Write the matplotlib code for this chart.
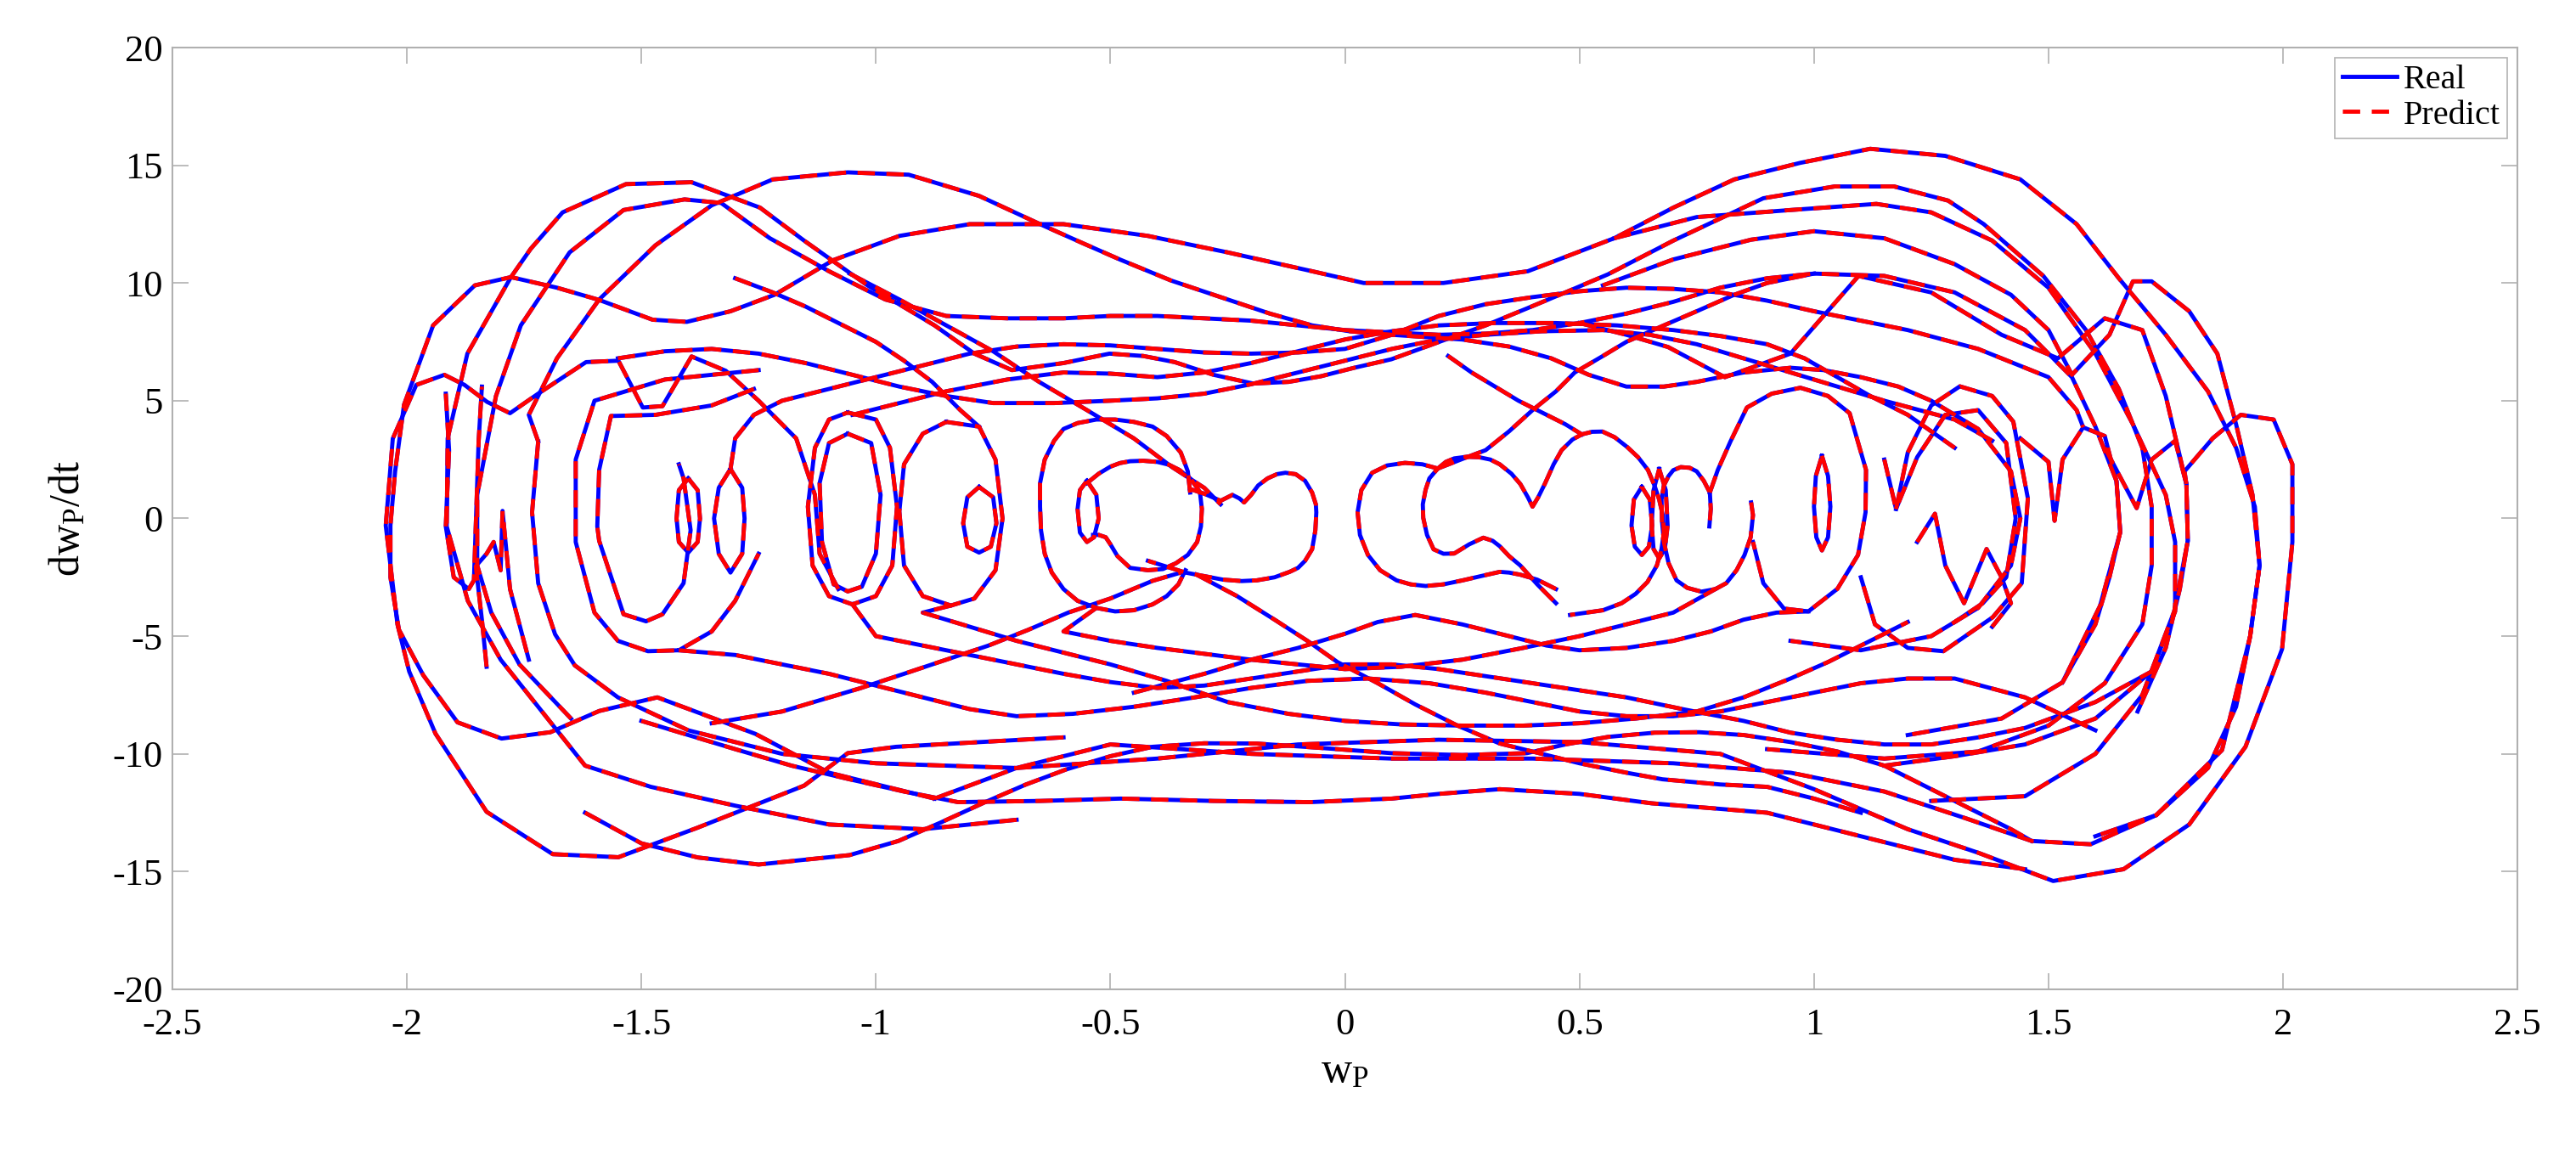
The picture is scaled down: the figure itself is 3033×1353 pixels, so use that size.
import numpy as np
import matplotlib.pyplot as plt

plt.rcParams['font.family'] = ['Liberation Serif', 'DejaVu Serif']
plt.rcParams['mathtext.fontset'] = 'custom'
plt.rcParams['mathtext.rm'] = 'Liberation Serif'
plt.rcParams['mathtext.it'] = 'Liberation Serif'
plt.rcParams['axes.unicode_minus'] = False

# trajectory pieces (w_P, dw_P/dt)
orbit_outer_top = [(-0.875, -11.9), (-1.1, -10.8), (-1.257, -9.15), (-1.466, -7.6), (-1.59, -8.18),
                   (-1.694, -9.08), (-1.798, -9.35), (-1.892, -8.66), (-1.965, -6.66), (-2.017, -4.72),
                   (-2.035, -2.5), (-2.035, -0.3), (-2.025, 2.0), (-2.006, 4.83), (-1.944, 8.2),
                   (-1.855, 9.9), (-1.778, 10.25), (-1.68, 9.8), (-1.59, 9.28), (-1.476, 8.44),
                   (-1.403, 8.35), (-1.31, 8.8), (-1.216, 9.5), (-1.091, 10.97), (-0.95, 12.0),
                   (-0.8, 12.5), (-0.6, 12.5), (-0.42, 12.0), (-0.25, 11.3), (-0.07, 10.5), (0.04, 10.0),
                   (0.21, 10.0), (0.39, 10.5), (0.574, 11.9), (0.7, 13.2), (0.83, 14.4), (0.97, 15.1),
                   (1.12, 15.7), (1.28, 15.4), (1.44, 14.4), (1.56, 12.5), (1.65, 10.2), (1.75, 7.8),
                   (1.84, 5.4), (1.9, 3.0), (1.94, 0.5), (1.95, -2.0), (1.93, -5.0), (1.9, -8.0),
                   (1.84, -10.6), (1.73, -12.6), (1.59, -13.84), (1.464, -13.7), (1.324, -12.74),
                   (1.15, -11.6), (0.95, -10.8), (0.7, -10.4), (0.4, -10.2), (0.1, -10.2), (-0.2, -10.0),
                   (-0.5, -9.6), (-0.7, -10.6), (-0.875, -11.9)]

orbit_outer_left = [(-0.6, -9.3), (-0.957, -9.7), (-1.06, -9.97), (-1.153, -11.35), (-1.382, -13.15),
                    (-1.549, -14.39), (-1.689, -14.26), (-1.83, -12.46), (-1.939, -9.14), (-1.995, -6.5),
                    (-2.02, -4.5), (-2.045, -0.3), (-2.03, 3.39), (-1.98, 5.67), (-1.92, 6.1),
                    (-1.877, 5.67), (-1.829, 4.95), (-1.78, 4.47), (-1.72, 5.3), (-1.618, 6.64),
                    (-1.549, 6.7), (-1.497, 4.71), (-1.455, 4.77), (-1.393, 6.88), (-1.32, 6.27),
                    (-1.25, 5.0), (-1.17, 3.4), (-1.13, 1.0), (-1.12, -1.5), (-1.08, -3.0)]

orbit_a = [(-0.7, -12.8), (-0.9, -13.2), (-1.1, -13.0), (-1.3, -12.2), (-1.48, -11.4),
           (-1.62, -10.5), (-1.72, -8.0), (-1.8, -6.0), (-1.87, -3.5), (-1.915, -0.34), (-1.913, 3.4),
           (-1.871, 7.0), (-1.778, 10.25), (-1.736, 11.45), (-1.668, 13.0), (-1.533, 14.2),
           (-1.393, 14.28), (-1.247, 13.2), (-1.153, 11.8), (-1.018, 9.9), (-0.875, 8.2), (-0.79, 7.0),
           (-0.71, 6.3), (-0.6, 6.6), (-0.502, 7.0), (-0.43, 6.9), (-0.363, 6.64), (-0.28, 6.1),
           (-0.196, 5.73), (-0.12, 5.8), (-0.051, 6.04), (0.02, 6.4), (0.099, 6.76), (0.215, 7.6),
           (0.3, 8.2), (0.388, 8.92), (0.47, 9.6), (0.561, 10.37), (0.7, 11.8), (0.892, 13.6),
           (1.044, 14.1), (1.171, 14.1), (1.286, 13.5), (1.362, 12.5), (1.489, 10.3), (1.58, 8.0),
           (1.65, 5.5), (1.7, 3.0), (1.72, 0.5), (1.72, -2.0), (1.7, -4.5), (1.62, -7.0), (1.5, -8.8),
           (1.35, -9.9), (1.15, -10.2), (0.9, -9.8)]

orbit_b = [(-1.65, -8.5), (-1.76, -6.2), (-1.82, -4.0), (-1.85, -2.0), (-1.85, 1.0), (-1.81, 5.2),
           (-1.757, 8.2), (-1.653, 11.3), (-1.538, 13.1),
           (-1.408, 13.55), (-1.33, 13.4), (-1.226, 11.9), (-1.1, 10.5), (-0.98, 9.3), (-0.85, 8.6),
           (-0.72, 8.5), (-0.6, 8.5), (-0.5, 8.6), (-0.4, 8.6), (-0.3, 8.5), (-0.2, 8.4), (-0.1, 8.2),
           (0.0, 8.0), (0.1, 7.9), (0.2, 7.8), (0.3, 7.85), (0.4, 8.0), (0.5, 8.3), (0.6, 8.7),
           (0.7, 9.2), (0.8, 9.8), (0.9, 10.2), (1.0, 10.4), (1.15, 10.3), (1.3, 9.6), (1.45, 8.0),
           (1.55, 6.0), (1.6, 3.9), (1.645, 1.58), (1.653, -0.58), (1.61, -3.71), (1.53, -6.96),
           (1.4, -8.5), (1.2, -9.2)]

orbit_c = [(-1.72, 3.27), (-1.74, 4.4), (-1.68, 6.8), (-1.59, 9.3), (-1.47, 11.6), (-1.35, 13.3),
           (-1.22, 14.4), (-1.06, 14.7), (-0.93, 14.6), (-0.78, 13.7), (-0.65, 12.5), (-0.56, 11.7),
           (-0.48, 11.0), (-0.37, 10.1), (-0.25, 9.3), (-0.16, 8.7), (-0.07, 8.2), (0.01, 7.95),
           (0.1, 7.8), (0.25, 7.6), (0.35, 7.3), (0.44, 6.8), (0.52, 6.1), (0.6, 5.6), (0.68, 5.6),
           (0.75, 5.8), (0.85, 6.2), (0.95, 6.4), (1.02, 6.3), (1.1, 6.0), (1.18, 5.6), (1.25, 5.0),
           (1.35, 3.8), (1.42, 2.0), (1.44, 0.0), (1.42, -2.0), (1.35, -3.8), (1.25, -5.0),
           (1.1, -5.6), (0.95, -5.2)]

orbit_c_low = [(-1.72, 3.27), (-1.733, 0.26), (-1.72, -2.75), (-1.684, -4.92), (-1.642, -6.24),
               (-1.55, -7.6), (-1.4, -9.0), (-1.2, -10.0), (-1.0, -10.4), (-0.7, -10.6), (-0.4, -10.2),
               (-0.1, -9.6), (0.2, -9.4), (0.5, -9.5), (0.8, -10.0), (1.0, -11.5), (1.2, -13.2),
               (1.35, -14.2), (1.51, -15.4), (1.66, -14.9), (1.8, -13.0), (1.92, -9.7), (1.998, -5.55),
               (2.02, -1.0), (2.02, 2.3), (1.98, 4.2), (1.91, 4.4), (1.85, 3.4), (1.79, 2.0),
               (1.794, 1.46)]

bottom_arc_1 = [(-1.62, -12.5), (-1.5, -13.8), (-1.38, -14.4), (-1.25, -14.7), (-1.056, -14.3),
                (-0.952, -13.7), (-0.86, -12.9), (-0.767, -12.05), (-0.68, -11.3), (-0.594, -10.66),
                (-0.5, -10.1), (-0.41, -9.7), (-0.3, -9.55), (-0.19, -9.56), (-0.05, -9.75),
                (0.099, -9.97), (0.25, -10.05), (0.388, -9.97), (0.47, -9.6), (0.561, -9.28),
                (0.66, -9.1), (0.755, -9.08), (0.85, -9.2), (0.95, -9.5), (1.05, -9.9), (1.15, -10.5),
                (1.3, -12.0), (1.42, -13.2), (1.464, -13.7)]

bottom_arc_2 = [(-1.5, -8.6), (-1.3, -9.8), (-1.18, -10.5), (-1.056, -11.08), (-0.94, -11.6),
                (-0.825, -12.05), (-0.65, -12.0), (-0.478, -11.9), (-0.28, -12.0), (-0.074, -12.05),
                (0.1, -11.9), (0.2, -11.7), (0.33, -11.5), (0.5, -11.7), (0.654, -12.1), (0.9, -12.5),
                (1.1, -13.5), (1.3, -14.5), (1.45, -14.9)]

bottom_arc_3 = [(-1.42, -5.6), (-1.3, -5.8), (-1.1, -6.6), (-0.9, -7.6), (-0.8, -8.1), (-0.7, -8.4),
                (-0.58, -8.3), (-0.45, -8.0), (-0.32, -7.6), (-0.2, -7.2), (-0.08, -6.9), (0.05, -6.8),
                (0.18, -7.0), (0.3, -7.4), (0.4, -7.8), (0.5, -8.2), (0.6, -8.4), (0.7, -8.4),
                (0.8, -8.2), (0.9, -7.8), (1.0, -7.4), (1.1, -7.0), (1.2, -6.8), (1.3, -6.8),
                (1.45, -7.6), (1.6, -9.0)]

bottom_arc_4 = [(-1.05, -3.65), (-1.0, -5.0), (-0.9, -5.4), (-0.8, -5.8), (-0.7, -6.2), (-0.6, -6.6),
                (-0.5, -6.95), (-0.4, -7.2), (-0.3, -7.1), (-0.2, -6.8), (-0.1, -6.5), (0.0, -6.2),
                (0.1, -6.2), (0.2, -6.4), (0.3, -6.7), (0.4, -7.0), (0.5, -7.3), (0.6, -7.6),
                (0.72, -8.1), (0.85, -8.6), (0.95, -9.1), (1.05, -9.4), (1.15, -9.6), (1.25, -9.6),
                (1.35, -9.3), (1.45, -8.9), (1.6, -7.8), (1.72, -6.5)]

bottom_arc_5 = [(-0.84, -3.7), (-0.9, -4.0), (-0.8, -4.6), (-0.7, -5.2), (-0.6, -5.7), (-0.5, -6.2),
                (-0.38, -6.9), (-0.25, -7.8), (-0.12, -8.3), (0.0, -8.6), (0.12, -8.75), (0.25, -8.8),
                (0.38, -8.8), (0.5, -8.7), (0.62, -8.5), (0.75, -8.2), (0.85, -7.6), (0.95, -6.8),
                (1.03, -6.1), (1.1, -5.4), (1.2, -4.4)]

bottom_diag_1 = [(-1.35, -8.7), (-1.2, -8.2), (-1.033, -7.21), (-0.94, -6.6), (-0.85, -6.0),
                 (-0.76, -5.4), (-0.675, -4.73), (-0.59, -4.0), (-0.5, -3.4), (-0.41, -2.65),
                 (-0.35, -2.3)]
bottom_diag_2 = [(-0.317, -2.38), (-0.23, -3.3), (-0.15, -4.3), (-0.08, -5.2), (-0.016, -6.1),
                 (0.07, -7.0), (0.15, -7.9), (0.24, -8.8), (0.33, -9.56), (0.42, -10.0), (0.5, -10.4),
                 (0.6, -10.8), (0.677, -11.08), (0.8, -11.3), (0.9, -11.4), (1.0, -11.9), (1.1, -12.5)]
bottom_wave_1 = [(-0.45, -7.4), (-0.3, -6.6), (-0.2, -6.0), (-0.1, -5.5), (0.0, -4.9), (0.07, -4.4),
                 (0.15, -4.1), (0.25, -4.5), (0.35, -5.0), (0.43, -5.4), (0.5, -5.6), (0.6, -5.5),
                 (0.7, -5.2), (0.78, -4.8), (0.85, -4.3), (0.92, -4.0), (0.988, -3.95)]
bottom_wave_2 = [(-0.53, -3.8), (-0.6, -4.8), (-0.5, -5.2), (-0.4, -5.5), (-0.3, -5.75), (-0.2, -6.0),
                 (-0.1, -6.2), (0.0, -6.4), (0.12, -6.3), (0.25, -6.0), (0.38, -5.5), (0.5, -5.0),
                 (0.6, -4.5), (0.7, -4.0), (0.79, -3.0)]

top_arc_1 = [(-1.31, 2.1), (-1.3, 3.4), (-1.26, 4.4), (-1.2, 5.0), (-1.1, 5.5), (-1.0, 6.0),
             (-0.9, 6.5), (-0.8, 7.0), (-0.7, 7.3), (-0.6, 7.4),
             (-0.5, 7.35), (-0.4, 7.2), (-0.3, 7.05), (-0.2, 7.0), (-0.1, 7.05), (0.0, 7.2),
             (0.1, 7.8), (0.2, 8.6), (0.3, 9.1), (0.4, 9.4), (0.5, 9.65), (0.6, 9.8), (0.7, 9.75),
             (0.8, 9.6), (0.9, 9.25), (1.0, 8.8), (1.1, 8.4), (1.2, 8.0), (1.35, 7.2), (1.5, 6.0),
             (1.56, 4.6), (1.574, 3.87)]

top_arc_2 = [(-1.55, 6.8), (-1.45, 7.1), (-1.35, 7.2), (-1.25, 7.0), (-1.15, 6.6), (-1.05, 6.1),
             (-0.95, 5.6), (-0.85, 5.2), (-0.75, 4.9), (-0.62, 4.9), (-0.5, 5.0), (-0.4, 5.1),
             (-0.3, 5.3), (-0.2, 5.7), (-0.1, 6.2), (0.0, 6.7), (0.1, 7.2), (0.2, 7.6), (0.3, 7.8),
             (0.42, 7.95), (0.55, 8.0), (0.65, 7.8), (0.75, 7.4), (0.85, 6.8), (0.95, 6.2),
             (1.05, 5.6), (1.15, 5.0), (1.3, 4.2), (1.38, 3.3)]

top_arc_3 = [(-1.05, 4.4), (-0.95, 4.9), (-0.85, 5.4), (-0.72, 5.9), (-0.6, 6.2), (-0.5, 6.15),
             (-0.4, 6.0), (-0.3, 6.2), (-0.2, 6.6), (-0.1, 7.1), (0.0, 7.6), (0.1, 7.95), (0.2, 8.2),
             (0.32, 8.3), (0.45, 8.3), (0.58, 8.2), (0.7, 8.0), (0.8, 7.75), (0.9, 7.4), (0.98, 6.8),
             (1.05, 6.0), (1.12, 5.2), (1.2, 4.4), (1.3, 3.0)]

top_diag_1 = [(-1.056, 10.4), (-0.95, 9.3), (-0.85, 8.2), (-0.75, 7.1), (-0.652, 5.8), (-0.55, 4.6),
              (-0.45, 3.4), (-0.37, 2.2), (-0.3, 1.3), (-0.265, 0.6)]
top_diag_2 = [(-1.3, 10.2), (-1.22, 9.6), (-1.15, 9.0), (-1.07, 8.2), (-1.0, 7.5), (-0.94, 6.7),
              (-0.88, 5.8), (-0.82, 4.6), (-0.78, 3.9)]
top_diag_3 = [(0.22, 6.9), (0.27, 6.2), (0.32, 5.6), (0.37, 5.0), (0.42, 4.5), (0.47, 4.0), (0.505, 3.57)]
top_diag_4 = [(0.198, 2.12), (0.26, 2.6), (0.3, 2.9), (0.35, 3.7), (0.4, 4.6), (0.45, 5.4), (0.49, 6.2),
              (0.55, 6.9), (0.6, 7.5), (0.68, 8.2), (0.75, 8.8), (0.83, 9.5), (0.9, 10.0), (1.0, 10.4)]

right_top_arc = [(0.574, 11.9), (0.75, 12.8), (0.95, 13.1), (1.133, 13.36), (1.25, 13.0), (1.38, 11.8),
                 (1.5, 9.8), (1.6, 7.0), (1.68, 4.0), (1.75, 1.0), (1.77, -1.0), (1.77, -3.95),
                 (1.72, -6.5), (1.6, -8.5), (1.45, -9.6), (1.3, -10.1), (1.15, -10.5)]

right_mid_arc = [(0.55, 9.9), (0.7, 11.0), (0.866, 11.84), (1.0, 12.2), (1.15, 11.9), (1.3, 10.8),
                 (1.42, 9.5), (1.5, 8.0),
                 (1.55, 6.1), (1.63, 7.8), (1.68, 10.07), (1.72, 10.07), (1.8, 8.8), (1.86, 7.0),
                 (1.9, 4.0), (1.935, 1.0), (1.95, -2.0), (1.93, -5.0), (1.87, -9.84), (1.73, -12.6),
                 (1.6, -13.5)]

right_low_arc = [(0.5, 8.3), (0.6, 7.8), (0.689, 7.28), (0.81, 6.0), (0.95, 7.0), (1.095, 10.3),
                 (1.25, 9.6), (1.4, 7.8),
                 (1.52, 6.8), (1.62, 8.5), (1.7, 8.0), (1.75, 5.2), (1.794, 1.46), (1.797, -0.95),
                 (1.768, -3.95), (1.7, -7.5), (1.6, -10.0), (1.45, -11.8), (1.25, -12.0)]

# left well loops
left_oval_1 = [(-1.40, 1.7), (-1.38, 1.2), (-1.375, 0.0), (-1.38, -1.0), (-1.40, -1.45), (-1.42, -1.0),
               (-1.425, 0.0), (-1.42, 1.2), (-1.40, 1.7)]
left_oval_2 = [(-1.31, 2.1), (-1.285, 1.3), (-1.28, 0.0), (-1.285, -1.5), (-1.31, -2.3), (-1.335, -1.5),
               (-1.345, 0.0), (-1.335, 1.3), (-1.31, 2.1)]
left_loop_1 = [(-1.26, 5.5), (-1.35, 4.8), (-1.47, 4.4), (-1.565, 4.35), (-1.59, 2.06), (-1.594, -0.34),
               (-1.59, -0.95), (-1.538, -4.07), (-1.49, -4.37), (-1.455, -4.07), (-1.41, -2.75),
               (-1.395, -0.5), (-1.41, 1.7), (-1.42, 2.3)]
left_loop_2 = [(-1.25, 6.3), (-1.45, 5.9), (-1.6, 5.0), (-1.64, 2.5), (-1.64, -1.0), (-1.6, -4.0),
               (-1.55, -5.2), (-1.486, -5.64), (-1.42, -5.6), (-1.35, -4.8), (-1.3, -3.5), (-1.25, -1.5)]
left_hook = [(-1.917, 5.3), (-1.91, 2.9), (-1.917, -0.34), (-1.90, -2.5), (-1.868, -3.0),
             (-1.857, -2.63), (-1.847, 3.27), (-1.84, 5.6)]
left_spike = [(-1.83, -6.3), (-1.84, -4.3), (-1.853, -2.03), (-1.83, -1.5), (-1.815, -1.0),
              (-1.80, -2.2), (-1.796, 0.32), (-1.78, -3.0), (-1.74, -6.0)]
left_big = [(-1.06, 4.5), (-1.0, 4.2), (-0.97, 3.0), (-0.955, 0.5), (-0.965, -2.0), (-1.0, -3.3),
            (-1.05, -3.65), (-1.1, -3.3), (-1.135, -2.0), (-1.145, 0.5), (-1.13, 3.0), (-1.1, 4.2),
            (-1.06, 4.5)]
left_big_in = [(-1.06, 3.6), (-1.01, 3.2), (-0.99, 1.0), (-1.0, -1.5), (-1.03, -2.9), (-1.06, -3.1),
               (-1.09, -2.8), (-1.115, -1.0), (-1.12, 1.5), (-1.1, 3.2), (-1.06, 3.6)]
left_oval_3 = [(-0.78, 1.34), (-0.75, 0.9), (-0.743, -0.2), (-0.755, -1.2), (-0.78, -1.45),
               (-0.805, -1.2), (-0.814, -0.2), (-0.805, 0.9), (-0.78, 1.34)]
left_loop_3 = [(-0.85, 4.1), (-0.78, 3.9), (-0.745, 2.5), (-0.73, 0.0), (-0.745, -2.2), (-0.79, -3.4),
               (-0.84, -3.7), (-0.9, -3.3), (-0.94, -2.0), (-0.95, 0.3), (-0.94, 2.3), (-0.9, 3.6),
               (-0.85, 4.1)]
left_loop_4 = [(-0.33, 1.1), (-0.335, 2.0), (-0.35, 2.8), (-0.38, 3.5), (-0.41, 3.9), (-0.45, 4.1),
               (-0.49, 4.2), (-0.53, 4.2), (-0.57, 4.05), (-0.6, 3.8), (-0.62, 3.3), (-0.64, 2.5),
               (-0.65, 1.5), (-0.65, 0.5), (-0.648, -0.5), (-0.64, -1.5), (-0.625, -2.3), (-0.6, -3.0),
               (-0.57, -3.5), (-0.53, -3.8), (-0.49, -3.95), (-0.45, -3.9), (-0.41, -3.65),
               (-0.38, -3.3), (-0.355, -2.8), (-0.34, -2.2)]
left_oval_4 = [(-0.55, 1.6), (-0.53, 1.0), (-0.525, 0.0), (-0.535, -0.8), (-0.55, -1.0),
               (-0.565, -0.6), (-0.57, 0.4), (-0.565, 1.2), (-0.55, 1.6)]
left_w = [(-0.55, 1.5), (-0.525, 1.9), (-0.5, 2.2), (-0.48, 2.35), (-0.458, 2.43), (-0.43, 2.45),
          (-0.4, 2.4), (-0.375, 2.28), (-0.353, 2.06), (-0.33, 1.7), (-0.315, 1.3), (-0.309, 1.1),
          (-0.305, 0.4), (-0.307, -0.34), (-0.315, -1.0), (-0.335, -1.55), (-0.36, -1.9),
          (-0.388, -2.15), (-0.42, -2.2), (-0.458, -2.1), (-0.485, -1.6), (-0.5, -1.1), (-0.51, -0.8),
          (-0.525, -0.7), (-0.537, -0.7)]
center_left = [(-0.33, 1.25), (-0.3, 1.05), (-0.265, 0.75), (-0.24, 1.0), (-0.225, 0.85),
               (-0.215, 0.68), (-0.2, 1.0), (-0.185, 1.4), (-0.165, 1.7), (-0.145, 1.88),
               (-0.127, 1.94), (-0.105, 1.88), (-0.085, 1.6), (-0.07, 1.1), (-0.062, 0.6),
               (-0.061, 0.26), (-0.063, -0.5), (-0.07, -1.31), (-0.085, -1.8), (-0.1, -2.1),
               (-0.118, -2.27), (-0.15, -2.5), (-0.188, -2.63), (-0.22, -2.66), (-0.26, -2.6),
               (-0.3, -2.45), (-0.34, -2.3), (-0.38, -2.05), (-0.42, -1.8)]

# right well loops
center_right = [(0.45, -3.0), (0.41, -2.6), (0.374, -2.39), (0.35, -2.3), (0.33, -2.27), (0.29, -2.45),
                (0.251, -2.63), (0.21, -2.8), (0.172, -2.87), (0.14, -2.8), (0.11, -2.63),
                (0.075, -2.2), (0.049, -1.55), (0.032, -0.7), (0.027, 0.26), (0.035, 1.2),
                (0.058, 1.94), (0.09, 2.25), (0.128, 2.36), (0.165, 2.3), (0.198, 2.12), (0.18, 1.7),
                (0.172, 1.22), (0.166, 0.6), (0.167, 0.02), (0.175, -0.7), (0.189, -1.31),
                (0.21, -1.5), (0.233, -1.49), (0.265, -1.1), (0.295, -0.82), (0.315, -0.95),
                (0.33, -1.18), (0.35, -1.6), (0.374, -2.0), (0.41, -2.8), (0.45, -3.6)]
center_right_2 = [(0.198, 2.12), (0.215, 2.4), (0.233, 2.55), (0.26, 2.62), (0.286, 2.6), (0.31, 2.5),
                  (0.33, 2.3), (0.355, 1.9), (0.374, 1.46), (0.39, 0.9), (0.40, 0.5), (0.412, 0.9),
                  (0.426, 1.46), (0.445, 2.3), (0.462, 2.9), (0.485, 3.35), (0.505, 3.57),
                  (0.527, 3.68), (0.549, 3.69), (0.575, 3.45), (0.602, 3.03), (0.625, 2.6),
                  (0.646, 2.06), (0.66, 1.4), (0.67, 0.8), (0.678, 0.1), (0.68, -0.6), (0.675, -1.3),
                  (0.665, -2.0), (0.645, -2.7), (0.62, -3.2), (0.59, -3.6), (0.55, -3.9), (0.48, -4.1)]
right_oval_1 = [(0.633, 1.34), (0.65, 0.8), (0.655, -0.3), (0.648, -1.2), (0.633, -1.55),
                (0.618, -1.2), (0.611, -0.3), (0.616, 0.8), (0.633, 1.34)]
right_oval_2 = [(0.67, 2.1), (0.684, 1.2), (0.688, -0.3), (0.682, -1.3), (0.67, -1.7), (0.658, -1.3),
                (0.654, -0.3), (0.658, 1.2), (0.67, 2.1)]
right_loop_1 = [(0.866, 0.68), (0.87, 0.14), (0.865, -0.8), (0.852, -1.55), (0.835, -2.2),
                (0.813, -2.75), (0.79, -3.0), (0.76, -3.11), (0.73, -2.95), (0.707, -2.63),
                (0.69, -1.9), (0.68, -1.0), (0.676, -0.1), (0.675, 0.8), (0.68, 1.4), (0.69, 1.8),
                (0.7, 2.05), (0.716, 2.18), (0.735, 2.15), (0.75, 2.0), (0.765, 1.6), (0.778, 1.1),
                (0.78, 0.4), (0.777, -0.34)]
right_loop_2 = [(0.778, 1.1), (0.795, 2.06), (0.822, 3.27), (0.857, 4.71), (0.91, 5.3), (0.971, 5.55),
                (1.03, 5.2), (1.076, 4.47), (1.111, 2.06), (1.11, 0.26), (1.094, -1.55), (1.05, -2.99),
                (0.988, -3.95), (0.936, -3.83), (0.892, -2.75), (0.87, -1.0)]
right_oval_3 = [(1.017, 2.66), (1.03, 1.8), (1.035, 0.5), (1.03, -0.8), (1.017, -1.36), (1.005, -0.8),
                (1.0, 0.5), (1.004, 1.8), (1.017, 2.66)]
right_loop_3 = [(1.175, 0.4), (1.2, 2.8), (1.25, 4.8), (1.311, 5.61), (1.38, 5.2), (1.425, 4.11),
                (1.456, 0.86), (1.443, -2.75), (1.381, -4.2), (1.276, -5.64), (1.2, -5.5), (1.13, -4.5),
                (1.1, -2.5)]
right_loop_4 = [(1.22, -1.0), (1.258, 0.2), (1.28, -2.0), (1.32, -3.6), (1.368, -1.3), (1.4, -2.5),
                (1.42, -3.6), (1.38, -4.6)]
right_loop_5 = [(1.15, 2.5), (1.175, 0.4), (1.22, 2.6), (1.28, 4.4), (1.35, 4.6), (1.41, 3.2),
                (1.43, 0.0), (1.41, -2.5), (1.36, -3.6), (1.3, -4.4)]
right_c_1 = [(1.44, 3.4), (1.5, 2.4), (1.513, -0.1), (1.53, 2.5), (1.574, 3.87), (1.62, 3.5),
             (1.645, 1.58), (1.653, -0.58), (1.63, -2.5), (1.6, -4.5), (1.53, -6.96)]
right_c_2 = [(1.62, 3.0), (1.688, 0.44), (1.72, 2.5), (1.77, 3.3), (1.794, 1.46), (1.797, -0.95),
             (1.78, -3.0), (1.75, -5.5), (1.69, -8.2)]

pieces = [orbit_outer_top, orbit_outer_left, orbit_a, orbit_b, orbit_c, orbit_c_low,
          bottom_arc_1, bottom_arc_2, bottom_arc_3, bottom_arc_4, bottom_arc_5,
          bottom_diag_1, bottom_diag_2, bottom_wave_1, bottom_wave_2,
          top_arc_1, top_arc_2, top_arc_3, top_diag_1, top_diag_2, top_diag_3, top_diag_4,
          right_top_arc, right_mid_arc, right_low_arc,
          left_oval_1, left_oval_2, left_loop_1, left_loop_2, left_hook, left_spike,
          left_big, left_big_in, left_oval_3, left_loop_3, left_loop_4, left_oval_4, left_w,
          center_left, center_right, center_right_2, right_oval_1, right_oval_2, right_loop_1,
          right_loop_2, right_oval_3, right_loop_3, right_loop_4, right_loop_5, right_c_1, right_c_2]

fig = plt.figure(figsize=(30.33, 13.53), dpi=100)
ax = fig.add_axes([0.0669, 0.139, 0.9104, 0.8196])

for i, p in enumerate(pieces):
    p = np.array(p)
    ax.plot(p[:, 0], p[:, 1], color='#0000ff', lw=3.5, label='Real' if i == 0 else None)
for i, p in enumerate(pieces):
    p = np.array(p)
    ax.plot(p[:, 0], p[:, 1], color='#ff0000', lw=3.5, dashes=(4.2, 2.8),
            label='Predict' if i == 0 else None)

ax.set_xlim(-2.5, 2.5)
ax.set_ylim(-20, 20)
ax.set_xticks(np.arange(-2.5, 2.51, 0.5))
ax.set_xticklabels(['-2.5', '-2', '-1.5', '-1', '-0.5', '0', '0.5', '1', '1.5', '2', '2.5'])
ax.set_yticks(np.arange(-20, 21, 5))
ax.tick_params(direction='in', length=14, width=1.2, color='#b0b0b0', labelsize=32,
               top=True, right=True)
ax.tick_params(axis='x', pad=16)
ax.tick_params(axis='y', pad=8)
for s in ax.spines.values():
    s.set_color('#b0b0b0')
    s.set_linewidth(1.5)

ax.set_xlabel('w$_\\mathrm{P}$', fontsize=36, labelpad=8)
ax.set_ylabel('dw$_\\mathrm{P}$/dt', fontsize=36, labelpad=20)

leg = ax.legend(loc='upper right', fontsize=29, frameon=True, fancybox=False, handlelength=1.6,
                handletextpad=0.2, borderpad=0.2, labelspacing=0.1, borderaxespad=0.3)
leg.get_frame().set_edgecolor('#a0a0a0')
leg.get_frame().set_linewidth(1.2)

fig.savefig('out.png', dpi=100)
